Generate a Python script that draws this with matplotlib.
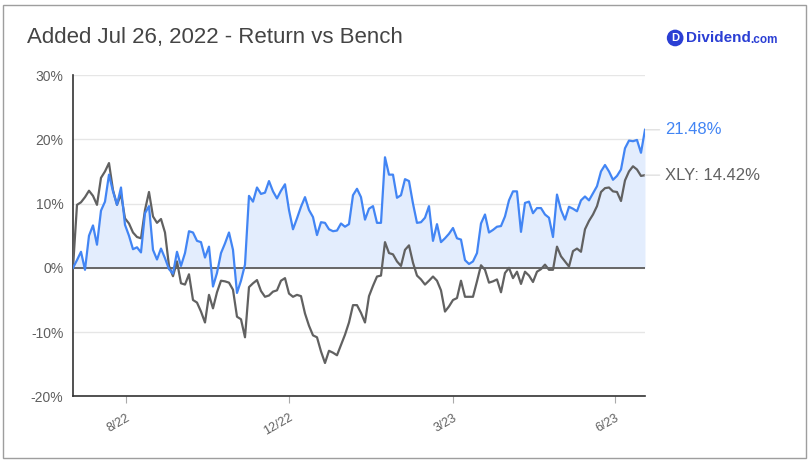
import numpy as np
import matplotlib
matplotlib.use('Agg')
from matplotlib import pyplot as plt
from matplotlib.patches import Rectangle

plt.rcParams['font.family'] = ['Liberation Sans', 'DejaVu Sans']

# return of the holding vs. the XLY benchmark, % since Jul 26, 2022
ret = [0.0, 1.2, 2.5, -0.3, 5.0, 6.6, 3.6, 8.9, 10.3, 14.5,
       11.9, 9.8, 12.5, 6.7, 5.0, 2.9, 3.2, 2.4, 8.5, 9.6,
       2.8, 1.3, 3.0, 1.5, -0.2, -0.9, 2.5, 0.3, 2.3, 5.7,
       5.5, 4.2, 4.0, 1.6, 3.3, -2.9, -0.8, 2.3, 3.8, 5.5,
       2.8, -3.9, -2.0, 0.5, 11.2, 10.3, 12.5, 11.5, 11.7, 13.5,
       11.9, 10.8, 12.0, 13.0, 9.0, 6.0, 7.7, 9.5, 11.0, 9.0,
       7.9, 5.1, 7.1, 7.0, 6.0, 5.7, 5.8, 6.9, 6.4, 6.8,
       11.3, 12.3, 11.0, 7.5, 9.2, 9.6, 7.0, 7.0, 17.2, 14.5,
       14.5, 10.9, 11.3, 13.8, 13.5, 10.0, 7.0, 7.1, 7.8, 9.6,
       4.2, 6.8, 4.0, 4.6, 5.3, 6.2, 4.6, 4.4, 1.2, 0.6,
       1.0, 2.3, 6.9, 8.3, 5.5, 5.9, 6.4, 6.5, 8.0, 10.5,
       11.9, 11.9, 5.6, 10.1, 10.3, 8.5, 9.3, 9.3, 8.3, 7.8,
       4.8, 11.4, 9.0, 7.5, 9.5, 9.2, 8.8, 10.5, 11.1, 10.5,
       11.6, 12.7, 15.0, 16.0, 15.0, 13.7, 14.3, 15.3, 18.6, 19.8,
       19.7, 19.9, 17.9, 21.48]

bench = [0.0, 9.8, 10.2, 11.0, 12.0, 11.2, 9.8, 14.0, 15.0, 16.3,
         12.1, 9.8, 11.5, 7.7, 6.9, 5.5, 4.8, 4.6, 9.0, 11.8,
         8.0, 7.0, 7.6, 5.5, 0.3, -1.3, 1.0, -2.4, -2.6, -1.0,
         -5.0, -5.4, -6.8, -8.5, -4.2, -6.3, -3.8, -2.0, -2.1, -2.3,
         -3.4, -7.6, -8.0, -10.8, -3.0, -2.4, -1.9, -3.6, -4.5, -4.3,
         -3.7, -3.5, -2.0, -1.6, -4.0, -4.5, -4.2, -4.4, -7.1, -9.0,
         -10.5, -10.8, -13.0, -14.8, -12.9, -13.2, -13.6, -12.0, -10.4, -8.5,
         -5.8, -5.8, -7.0, -8.5, -4.4, -2.8, -1.35, -1.2, 4.0, 2.3,
         2.1, 1.0, 0.3, 2.8, 3.5, 0.8, -1.2, -1.8, -2.6, -2.0,
         -1.35, -2.0, -3.5, -6.8, -6.0, -5.0, -4.7, -2.0, -4.5, -4.5,
         -4.5, -2.1, 0.4, -0.3, -2.3, -2.1, -1.8, -3.8, -0.8, 0.0,
         -1.6, -0.6, -2.5, -0.6, -1.2, -2.2, -0.6, -0.2, 0.5, -0.3,
         -0.3, 3.3, 1.8, 1.0, 0.2, 2.6, 3.0, 2.5, 6.0, 7.3,
         8.3, 9.6, 11.8, 12.4, 12.5, 11.9, 11.8, 10.4, 13.6, 15.0,
         15.8, 15.3, 14.3, 14.42]

tick_pos = [13.2, 54.0, 95.0, 135.6]
tick_labels = ['8/22', '12/22', '3/23', '6/23']
y_ticks = [-20, -10, 0, 10, 20, 30]

BLUE = '#4285f4'
DARK = '#616161'

fig, ax = plt.subplots(figsize=(8.11, 4.63), dpi=100)
fig.subplots_adjust(left=0.09, right=0.7953, top=0.838, bottom=0.1438)

x = np.arange(len(ret))
ax.fill_between(x, ret, 0, color='#e3edfd', linewidth=0, zorder=1)
ax.axhline(0, color='#666666', linewidth=1.4, zorder=2)
ax.plot(x, bench, color=DARK, linewidth=1.6, zorder=3)
ax.plot(x, ret, color=BLUE, linewidth=1.6, zorder=4)

ax.set_xlim(0, len(ret) - 1)
ax.set_ylim(-20, 30)
ax.set_yticks(y_ticks, [f'{t}%' for t in y_ticks])
ax.set_xticks(tick_pos, tick_labels, rotation=30, ha='right', rotation_mode='anchor')
ax.tick_params(axis='y', length=0, pad=7, labelsize=10, labelcolor='#5f5f5f')
ax.tick_params(axis='x', length=5, width=0.8, color='#aaaaaa', pad=6,
               labelsize=9, labelcolor='#5f5f5f')
ax.grid(axis='y', color='#e6e6e6', linewidth=1)
ax.set_axisbelow(True)
for side in ['top', 'right']:
    ax.spines[side].set_visible(False)
for side in ['left', 'bottom']:
    ax.spines[side].set_color('#333333')
    ax.spines[side].set_linewidth(1.2)

# end labels with leader lines
ax.annotate(f'{ret[-1]:.2f}%', xy=(x[-1], ret[-1]), xytext=(14.5, 0),
            textcoords='offset points', va='center', ha='left',
            fontsize=12, color=BLUE, annotation_clip=False,
            arrowprops=dict(arrowstyle='-', color='#e0e0e0', lw=1, shrinkA=2, shrinkB=0))
ax.annotate(f'XLY: {bench[-1]:.2f}%', xy=(x[-1], bench[-1]), xytext=(14.5, 0),
            textcoords='offset points', va='center', ha='left',
            fontsize=12, color=DARK, annotation_clip=False,
            arrowprops=dict(arrowstyle='-', color='#e0e0e0', lw=1, shrinkA=2, shrinkB=0))

fig.text(0.033, 0.918, 'Added Jul 26, 2022 - Return vs Bench', fontsize=16,
         color='#444444', va='center', ha='left')

# logo
LOGO = '#2b3fd4'
fig.text(0.8325, 0.918, 'D', fontsize=8, weight='bold', color='white', ha='center',
         va='center', bbox=dict(boxstyle='circle,pad=0.3', fc=LOGO, ec='none'))
fig.text(0.846, 0.918, 'Dividend', fontsize=11, weight='bold', color=LOGO,
         ha='left', va='center')
fig.text(0.925, 0.913, '.com', fontsize=8.5, weight='bold', color=LOGO,
         ha='left', va='center')

fig.patches.append(Rectangle((0.0037, 0.0108), 0.99, 0.978, transform=fig.transFigure,
                             fill=False, edgecolor='#9e9e9e', linewidth=1))

plt.savefig('out.png', dpi=100)
